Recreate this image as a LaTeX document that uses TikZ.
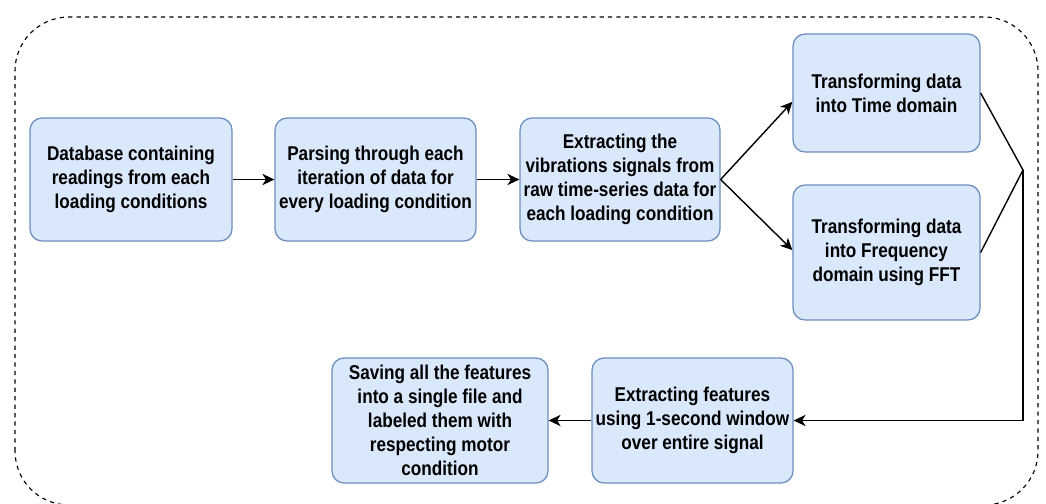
\documentclass[tikz,border=0pt]{standalone}
\usepackage{fontspec}
\setmainfont[FakeStretch=0.86]{Liberation Sans}
\usepackage{tikz}
\usetikzlibrary{positioning, arrows.meta}

\definecolor{boxfill}{HTML}{DAE8FC}
\definecolor{boxline}{HTML}{6C8EBF}

\begin{document}
\begin{tikzpicture}[
    stagebox/.style={draw=boxline, fill=boxfill, line width=0.9pt, rounded corners=0.3cm,
        align=center, font=\bfseries\fontsize{14.2}{17}\selectfont, inner sep=0pt},
    flow/.style={line width=1pt, -{Stealth[length=8.5pt, width=8pt, inset=2.5pt]}}
    ]

                \useasboundingbox (0,0) rectangle (26.15,12.575);

                %Outer frame
                \draw[dashed, line width=0.8pt, rounded corners=1.35cm] (0.375,-0.05) rectangle (25.95,12.15);

                %Stages
                \node[stagebox, minimum width=5.05cm, minimum height=3.075cm] (db) at (3.275,8.0875)
                    {Database containing\\readings from each\\loading conditions};
                \node[stagebox, minimum width=5.025cm, minimum height=3.075cm] (parse) at (9.3875,8.0875)
                    {Parsing through each\\iteration of data for\\every loading condition};
                \node[stagebox, minimum width=5cm, minimum height=3.075cm] (vib) at (15.5,8.0875)
                    {Extracting the\\vibrations signals from\\raw time-series data for\\each loading condition};
                \node[stagebox, minimum width=4.675cm, minimum height=2.95cm] (time) at (22.1625,10.25)
                    {Transforming data\\into Time domain};
                \node[stagebox, minimum width=4.675cm, minimum height=3.375cm] (freq) at (22.1625,6.2625)
                    {Transforming data\\into Frequency\\domain using FFT};
                \node[stagebox, minimum width=5.025cm, minimum height=3.125cm] (feat) at (17.3125,2.0625)
                    {Extracting features\\using 1-second window\\over entire signal};
                \node[stagebox, minimum width=5.4cm, minimum height=3.125cm] (save) at (11,2.0625)
                    {Saving all the features\\into a single file and\\labeled them with\\respecting motor\\condition};

                %Connectors
                \coordinate (join) at (25.575,8.325);

                \draw[flow] (db) -- (parse);
                \draw[flow] (parse) -- (vib);
                \draw[flow] (vib.east) -- ([yshift=-0.22cm]time.west);
                \draw[flow] (vib.east) -- ([yshift=0.06cm]freq.west);
                \draw[line width=1pt] (time.east) -- (join) -- (freq.east);
                \draw[flow] (join) |- (feat.east);
                \draw[flow] (feat) -- (save);

\end{tikzpicture}
\end{document}
